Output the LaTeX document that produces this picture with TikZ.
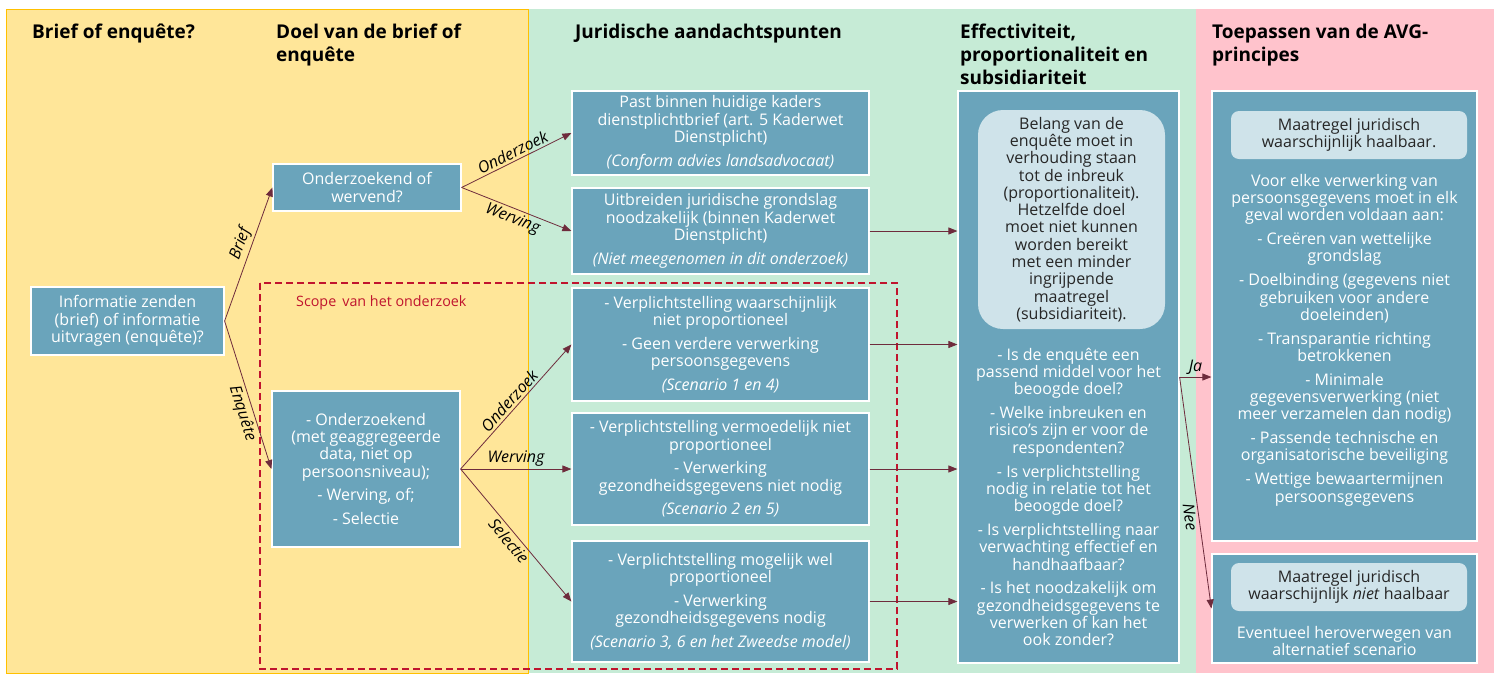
\documentclass[tikz,border=0pt]{standalone}
\usepackage{fontspec}
\setmainfont{Open Sans}
\usetikzlibrary{arrows.meta}

\definecolor{geel}{HTML}{FFE699}
\definecolor{geelrand}{HTML}{FFC000}
\definecolor{groen}{HTML}{C6EBD6}
\definecolor{roze}{HTML}{FFC3CC}
\definecolor{vakblauw}{HTML}{6AA4BB}
\definecolor{vaklicht}{HTML}{CFE3EA}
\definecolor{pijlrood}{HTML}{6E2B3C}
\definecolor{scoperood}{HTML}{C0142E}

\begin{document}
\begin{tikzpicture}[x=1pt,y=-1pt]
	\tikzstyle{every node}=[font=\fontsize{16}{17.3}\selectfont]
	\tikzstyle{vak}=[draw=white, line width=1.2pt, fill=vakblauw, text=white, align=center, inner sep=0pt]
	\tikzstyle{licht}=[fill=vaklicht, text=black!85, align=center, rounded corners=8pt, inner sep=0pt]
	\tikzstyle{kop}=[font=\fontsize{19}{23}\selectfont\bfseries, anchor=north west, align=left, inner sep=0pt]
	\tikzstyle{pijl}=[draw=pijlrood, line width=0.8pt, -{Triangle[length=9pt,width=7pt]}]
	\tikzstyle{lab}=[font=\fontsize{16}{16}\selectfont\itshape, sloped, inner sep=2.5pt]
	
	\useasboundingbox (0,0) rectangle (1494,673);
	
	% achtergrond kolommen
	\fill[groen] (528,9) rectangle (1196,673);
	\fill[roze] (1196,9) rectangle (1494,673);
	\draw[geelrand, fill=geel] (6,9) rectangle (528,673);
	
	% koppen
	\node[kop] (kop1) at (32,23.5) {Brief of enquête?};
	\node[kop] (kop2) at (276,23.5) {Doel van de brief of\\enquête};
	\node[kop] (kop3) at (575,23.5) {Juridische aandachtspunten};
	\node[kop] (kop4) at (960,23.5) {Effectiviteit,\\proportionaliteit en\\subsidiariteit};
	\node[kop] (kop5) at (1212,23.5) {Toepassen van de AVG-\\principes};
	
	% scope
	\draw[scoperood, line width=2pt, dash pattern=on 7pt off 4pt] (260,283) rectangle (897,669);
	\node[anchor=west, text=scoperood, font=\fontsize{14.3}{15}\selectfont, inner sep=0pt] (scope) at (296,303) {Scope\, van het onderzoek};
	
	% vakken links
	\node[vak, minimum width=193pt, minimum height=68pt] (info) at (127.5,321) {Informatie zenden\\(brief) of informatie\\uitvragen (enquête)?};
	\node[vak, minimum width=188pt, minimum height=47pt] (doel) at (367,187.5) {Onderzoekend of\\wervend?};
	\node[vak, minimum width=188pt, minimum height=156pt] (enq) at (366,469) {- Onderzoekend\\(met geaggregeerde\\data, niet op\\persoonsniveau);\\[6.5pt]- Werving, of;\\[6.5pt]- Selectie};
	
	% juridische vakken
	\node[vak, minimum width=297pt, minimum height=84pt] (past) at (720.5,133) {Past binnen huidige kaders\\dienstplichtbrief (art. 5 Kaderwet\\Dienstplicht)\\[6.5pt]\textit{(Conform advies landsadvocaat)}};
	\node[vak, minimum width=297pt, minimum height=86pt] (uitbr) at (720.5,231) {Uitbreiden juridische grondslag\\noodzakelijk (binnen Kaderwet\\Dienstplicht)\\[6.5pt]\textit{(Niet meegenomen in dit onderzoek)}};
	\node[vak, minimum width=297pt, minimum height=113pt] (sc14) at (720.5,344.5) {- Verplichtstelling waarschijnlijk\\niet proportioneel\\[6.5pt]- Geen verdere verwerking\\persoonsgegevens\\[6.5pt]\textit{(Scenario 1 en 4)}};
	\node[vak, minimum width=297pt, minimum height=112pt] (sc25) at (720.5,469) {- Verplichtstelling vermoedelijk niet\\proportioneel\\[6.5pt]- Verwerking\\gezondheidsgegevens niet nodig\\[6.5pt]\textit{(Scenario 2 en 5)}};
	\node[vak, minimum width=297pt, minimum height=121pt] (sc36) at (720.5,601.5) {- Verplichtstelling mogelijk wel\\proportioneel\\[6.5pt]- Verwerking\\gezondheidsgegevens nodig\\[6.5pt]\textit{(Scenario 3, 6 en het Zweedse model)}};
	
	% effectiviteit
	\node[vak, minimum width=221pt, minimum height=572pt] (eff) at (1068.5,377) {};
	\node[licht, rounded corners=25pt, minimum width=187pt, minimum height=219pt] (belang) at (1071.5,219.5) {Belang van de\\enquête moet in\\verhouding staan\\tot de inbreuk\\(proportionaliteit).\\Hetzelfde doel\\moet niet kunnen\\worden bereikt\\met een minder\\ingrijpende\\maatregel\\(subsidiariteit).};
	\node[text=white, align=center, inner sep=0pt] (vragen) at (1068.5,497) {- Is de enquête een\\passend middel voor het\\beoogde doel?\\[6.5pt]- Welke inbreuken en\\risico’s zijn er voor de\\respondenten?\\[6.5pt]- Is verplichtstelling\\nodig in relatie tot het\\beoogde doel?\\[6.5pt]- Is verplichtstelling naar\\verwachting effectief en\\handhaafbaar?\\[6.5pt]- Is het noodzakelijk om\\gezondheidsgegevens te\\verwerken of kan het\\ook zonder?};
	
	% AVG
	\node[vak, minimum width=265pt, minimum height=450pt] (avg) at (1344.5,316) {};
	\node[licht, minimum width=236pt, minimum height=48pt] (haalbaar) at (1349,135) {Maatregel juridisch\\waarschijnlijk haalbaar.};
	\node[text=white, align=center, inner sep=0pt] (principes) at (1344.5,340) {Voor elke verwerking van\\persoonsgegevens moet in elk\\geval worden voldaan aan:\\[6.5pt]- Creëren van wettelijke\\grondslag\\[6.5pt]- Doelbinding (gegevens niet\\gebruiken voor andere\\doeleinden)\\[6.5pt]- Transparantie richting\\betrokkenen\\[6.5pt]- Minimale\\gegevensverwerking (niet\\meer verzamelen dan nodig)\\[6.5pt]- Passende technische en\\organisatorische beveiliging\\[6.5pt]- Wettige bewaartermijnen\\persoonsgegevens};
	\node[vak, minimum width=265pt, minimum height=109pt] (nietbox) at (1344.5,608.5) {};
	\node[licht, minimum width=236pt, minimum height=48pt] (niethaalbaar) at (1349,587) {Maatregel juridisch\\waarschijnlijk \textit{niet} haalbaar};
	\node[text=white, align=center, inner sep=0pt] (heroverwegen) at (1344.5,641) {Eventueel heroverwegen van\\alternatief scenario};
	
	% pijlen
	\draw[pijl] (info.east) -- node[lab, above, pos=0.55] {Brief} (doel.west);
	\draw[pijl] (info.east) -- node[lab, below, pos=0.6] {Enquête} (enq.west);
	\draw[pijl] (doel.east) -- node[lab, above] {Onderzoek} (past.west);
	\draw[pijl] (doel.east) -- node[lab, below] {Werving} (uitbr.west);
	\draw[pijl] (enq.east) -- node[lab, above] {Onderzoek} (sc14.west);
	\draw[pijl] (enq.east) -- node[lab, above] {Werving} (sc25.west);
	\draw[pijl] (enq.east) -- node[lab, below] {Selectie} (sc36.west);
	
	\draw[pijl] (uitbr.east) -- (uitbr.east -| eff.west);
	\draw[pijl] (sc14.east) -- (sc14.east -| eff.west);
	\draw[pijl] (sc25.east) -- (sc25.east -| eff.west);
	\draw[pijl] (sc36.east) -- (sc36.east -| eff.west);
	
	\draw[pijl] (eff.east) -- node[lab, above] {Ja} (eff.east -| avg.west);
	\draw[pijl] (eff.east) -- node[lab, below, pos=0.6] {Nee} (nietbox.west);
	
\end{tikzpicture}
\end{document}
